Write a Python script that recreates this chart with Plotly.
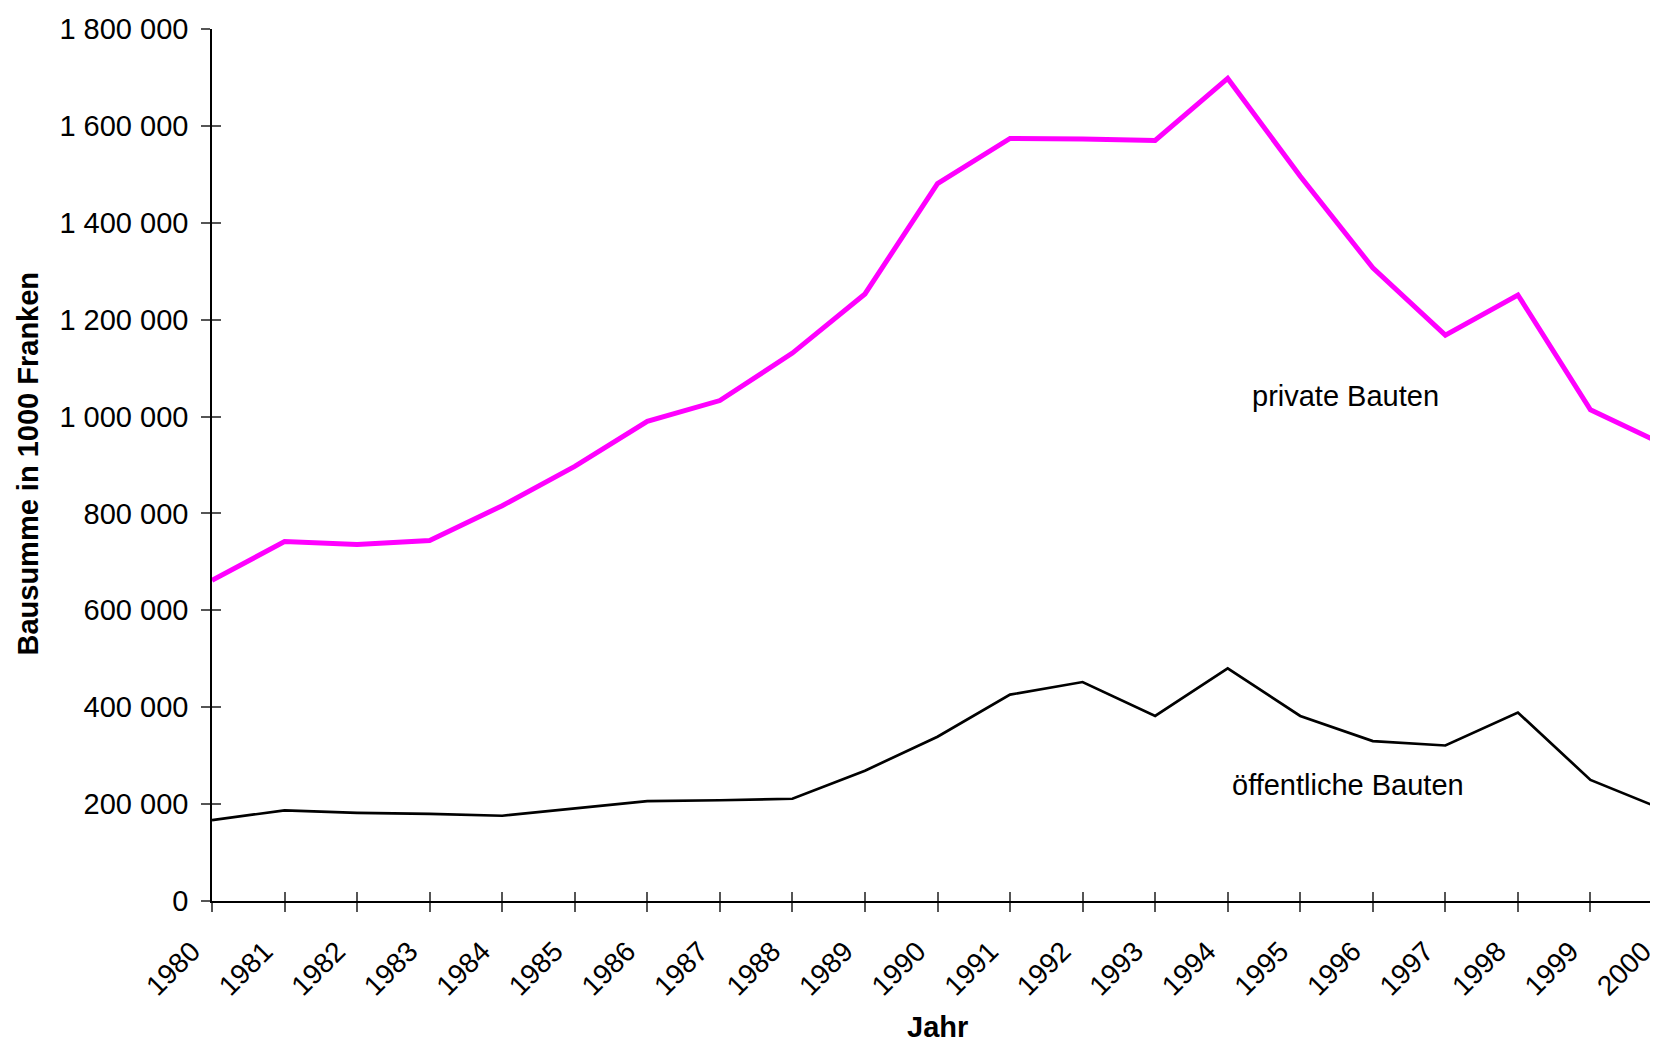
import plotly.graph_objects as go

years = list(range(1980, 2001))
private_bauten = [662000, 742000, 736000, 744000, 816000, 897000, 990000, 1033000, 1131000,
                  1253000, 1481000, 1574000, 1573000, 1570000, 1698000, 1496000, 1307000,
                  1168000, 1251000, 1014000, 943000]
oeffentliche_bauten = [167000, 187000, 182000, 180000, 176000, 191000, 206000, 208000, 211000,
                       269000, 339000, 426000, 452000, 382000, 480000, 382000, 330000, 321000,
                       389000, 250000, 189000]
y_ticks = [0, 200000, 400000, 600000, 800000, 1000000, 1200000, 1400000, 1600000, 1800000]
series_labels = ["private Bauten", "öffentliche Bauten"]
label_pos_x = [1995.63, 1995.66]
label_pos_y = [1041600, 240100]

FONT = "Liberation Sans, Arial, sans-serif"

fig = go.Figure()
fig.add_trace(go.Scatter(x=years, y=private_bauten, mode="lines",
                         line=dict(color="#FF00FF", width=5), name=series_labels[0],
                         showlegend=False, hoverinfo="skip"))
fig.add_trace(go.Scatter(x=years, y=oeffentliche_bauten, mode="lines",
                         line=dict(color="#000000", width=2.7), name=series_labels[1],
                         showlegend=False, hoverinfo="skip"))
# invisible trace to carry the inner tick axes
fig.add_trace(go.Scatter(x=[years[0]], y=[0], xaxis="x2", yaxis="y2", mode="markers",
                         marker=dict(opacity=0), showlegend=False, hoverinfo="skip"))

fig.update_layout(
    width=1660, height=1037,
    margin=dict(l=204, r=5, t=16, b=144),
    paper_bgcolor="white", plot_bgcolor="white",
    separators=", ",
    font=dict(family=FONT, color="black"),
    xaxis=dict(range=[1980, 2000], tickvals=years, ticktext=[str(y) for y in years],
               tickangle=-45, ticks="outside", ticklen=9, tickwidth=1.5, tickcolor="#555",
               showline=True, linecolor="black", linewidth=1.5, showgrid=False, zeroline=False,
               tickfont=dict(size=28, family=FONT), ticklabelshift=-20, ticklabelstandoff=12),
    yaxis=dict(range=[0, 1800000], tickvals=y_ticks, tickformat=",d",
               ticks="outside", ticklen=9, tickwidth=1.5, tickcolor="#555",
               showline=True, linecolor="black", linewidth=1.5, showgrid=False, zeroline=False,
               tickfont=dict(size=29, family=FONT), ticklabelstandoff=7),
    xaxis2=dict(range=[1980, 2000], tickvals=years, overlaying="x", anchor="y2", side="bottom",
                ticks="inside", ticklen=9, tickwidth=1.5, tickcolor="#555",
                showticklabels=False, showgrid=False, zeroline=False, showline=False),
    yaxis2=dict(range=[0, 1800000], tickvals=y_ticks, overlaying="y", anchor="x2", side="left",
                ticks="inside", ticklen=9, tickwidth=1.5, tickcolor="#555",
                showticklabels=False, showgrid=False, zeroline=False, showline=False),
    annotations=[
        dict(text="Bausumme in 1000 Franken", xref="paper", yref="paper", x=-0.1268, y=0.5017,
             xanchor="center", yanchor="middle", textangle=-90, showarrow=False,
             font=dict(size=29, family=FONT, color="black", weight="bold")),
        dict(text="Jahr", xref="paper", yref="paper", x=0.5, y=-0.1448,
             xanchor="center", yanchor="middle", showarrow=False,
             font=dict(size=29, family=FONT, color="black", weight="bold")),
        dict(text=series_labels[0], x=label_pos_x[0], y=label_pos_y[0], xref="x", yref="y",
             showarrow=False, xanchor="center", yanchor="middle",
             font=dict(size=29, family=FONT, color="black")),
        dict(text=series_labels[1], x=label_pos_x[1], y=label_pos_y[1], xref="x", yref="y",
             showarrow=False, xanchor="center", yanchor="middle",
             font=dict(size=29, family=FONT, color="black")),
    ],
)

fig.write_html("out.html")
